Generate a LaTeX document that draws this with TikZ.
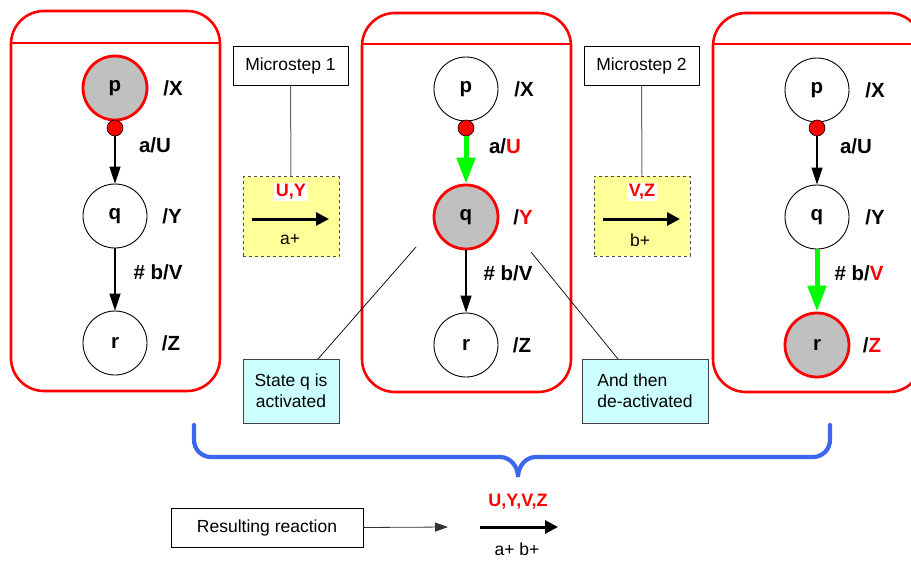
\documentclass[tikz,border=0pt]{standalone}
\usepackage{fontspec}
\setmainfont{Liberation Sans}
\usetikzlibrary{arrows.meta}
\definecolor{stgrey}{HTML}{C0C0C0}
\definecolor{yel}{HTML}{FFFF99}
\definecolor{cyb}{HTML}{CCFFFF}
\definecolor{grn}{HTML}{00FF00}
\definecolor{bluebr}{HTML}{3D66EE}
\definecolor{redc}{HTML}{FF0000}
\begin{document}
\begin{tikzpicture}[x=1pt,y=-1pt,
  panel/.style={draw=redc,line width=2.6pt,rounded corners=33pt},
  st/.style={circle,draw=black,line width=0.9pt,minimum size=64pt,inner sep=0pt,font=\fontsize{20.5}{22}\selectfont\bfseries,fill=white},
  act/.style={st,fill=stgrey,draw=redc,line width=2.8pt},
  lab/.style={font=\fontsize{20.5}{22}\selectfont\bfseries,inner sep=0pt},
  dot/.style={circle,fill=redc,draw=black,line width=0.6pt,minimum size=16pt,inner sep=0pt},
  tr/.style={-{Triangle[length=17pt,width=11pt]},line width=1.1pt},
  gtr/.style={-{Triangle[length=26pt,width=18pt]},line width=5pt,draw=grn,fill=grn},
  txt/.style={font=\fontsize{17.5}{21}\selectfont},
  msbox/.style={draw=black,line width=0.8pt,fill=white,minimum width=115pt,minimum height=39pt,txt},
  ybox/.style={draw=black!70,dashed,line width=0.8pt,fill=yel,minimum width=96pt,minimum height=80pt},
  cbox/.style={draw=black!75,line width=0.8pt,fill=cyb,txt},
  thk/.style={-{Triangle[length=13pt,width=13pt]},line width=3pt},
  rlab/.style={font=\fontsize{18}{20}\selectfont\bfseries,text=redc,fill=white,inner sep=1.5pt},
  thin/.style={draw=black,line width=0.7pt},
  brace/.style={draw=bluebr,line width=4.2pt,line cap=round}]
\useasboundingbox (0,0) rectangle (911,560);
\clip (0,0) rectangle (911,560);

% ---------- left panel
\draw[panel] (11,11) rectangle (220,391);
\draw[draw=redc,line width=1.6pt] (11,43) -- (220,43);
\node[act] (p1) at (115,88) {p};
\node[st] (q1) at (115,216) {q};
\node[st] (r1) at (115,343) {r};
\node[dot] (d1) at (115,128) {};
\draw[tr] (d1) -- (q1);
\draw[tr] (q1) -- (r1);
\node[lab] (lx1) at (173,88) {/X};
\node[lab] (ly1) at (172,216) {/Y};
\node[lab] (lz1) at (171,343) {/Z};
\node[lab] (la1) at (155,145) {a/U};
\node[lab] (lb1) at (158,272) {\# b/V};

% ---------- middle panel
\draw[panel] (362,13) rectangle (571,392);
\draw[draw=redc,line width=1.6pt] (362,44) -- (571,44);
\node[st] (p2) at (466,89) {p};
\node[act] (q2) at (466,217) {q};
\node[st] (r2) at (466,345) {r};
\node[dot] (d2) at (466,128) {};
\draw[gtr] (d2) -- (q2);
\draw[tr] (q2) -- (r2);
\node[lab] (lx2) at (524,89) {/X};
\node[lab] (ly2) at (523,217) {/\textcolor{redc}{Y}};
\node[lab] (lz2) at (522,345) {/Z};
\node[lab] (la2) at (505,146) {a/\textcolor{redc}{U}};
\node[lab] (lb2) at (508,273) {\# b/V};

% ---------- right panel
\draw[panel] (713,13) rectangle (922,392);
\draw[draw=redc,line width=1.6pt] (713,44) -- (922,44);
\node[st] (p3) at (817,90) {p};
\node[st] (q3) at (817,217) {q};
\node[act] (r3) at (817,345) {r};
\node[dot] (d3) at (817,128) {};
\draw[tr] (d3) -- (q3);
\draw[gtr] (q3) -- (r3);
\node[lab] (lx3) at (875,90) {/X};
\node[lab] (ly3) at (875,217) {/Y};
\node[lab] (lz3) at (872,345) {/\textcolor{redc}{Z}};
\node[lab] (la3) at (856,146) {a/U};
\node[lab] (lb3) at (859,273) {\# b/\textcolor{redc}{V}};

% ---------- microstep 1
\node[msbox] (ms1) at (290.5,65.5) {Microstep 1};
\node[ybox] (y1) at (291,216.5) {};
\draw[draw=black!60,line width=1pt] (ms1.south) -- (y1.north);
\node[rlab] (uy) at (291,192) {U,Y};
\coordinate (a1s) at (252,219);
\coordinate (a1e) at (329,219);
\draw[thk] (a1s) -- (a1e);
\node[txt,inner sep=0pt] (ap) at (290,240) {a+};

% ---------- microstep 2
\node[msbox] (ms2) at (641.5,65.5) {Microstep 2};
\node[ybox] (y2) at (642,216) {};
\draw[draw=black!60,line width=1pt] (ms2.south) -- (y2.north);
\node[rlab] (vz) at (642,192) {V,Z};
\coordinate (a2s) at (603,219);
\coordinate (a2e) at (680,219);
\draw[thk] (a2s) -- (a2e);
\node[txt,inner sep=0pt] (bp) at (640,240) {b+};

% ---------- callouts
\node[cbox,minimum width=96pt,minimum height=64pt,align=center] (c1) at (291,391) {State q is\\activated};
\node[cbox,minimum width=126pt,minimum height=64pt,align=left] (c2) at (645,391) {And then\\de-activated};
\coordinate (c1s) at (416,247);
\coordinate (c2s) at (531,252);
\coordinate (c1e) at (318,359);
\coordinate (c2e) at (618,359);
\draw[thin] (c1s) -- (c1e);
\draw[thin] (c2s) -- (c2e);

% ---------- brace
\draw[brace] (194,425) -- (194,440) to[out=-90,in=180] (211,457) -- (500,457)
  to[out=0,in=90] (518,477) to[out=90,in=180] (536,457) -- (813,457)
  to[out=0,in=-90] (830,440) -- (830,425);

% ---------- resulting reaction
\node[draw=black,line width=0.8pt,minimum width=192pt,minimum height=39pt,txt] (rr) at (267,527.5) {Resulting reaction};
\coordinate (rre) at (448,527);
\draw[-{Triangle[length=13pt,width=9pt]},line width=0.8pt,draw=black!80] (rr.east) -- (rre);
\node[rlab,fill=none] (uyvz) at (518,502) {U,Y,V,Z};
\coordinate (fs) at (480,527);
\coordinate (fe) at (558,527);
\draw[thk] (fs) -- (fe);
\node[txt,inner sep=0pt] (abp) at (517,549) {a+ b+};
\end{tikzpicture}
\end{document}
